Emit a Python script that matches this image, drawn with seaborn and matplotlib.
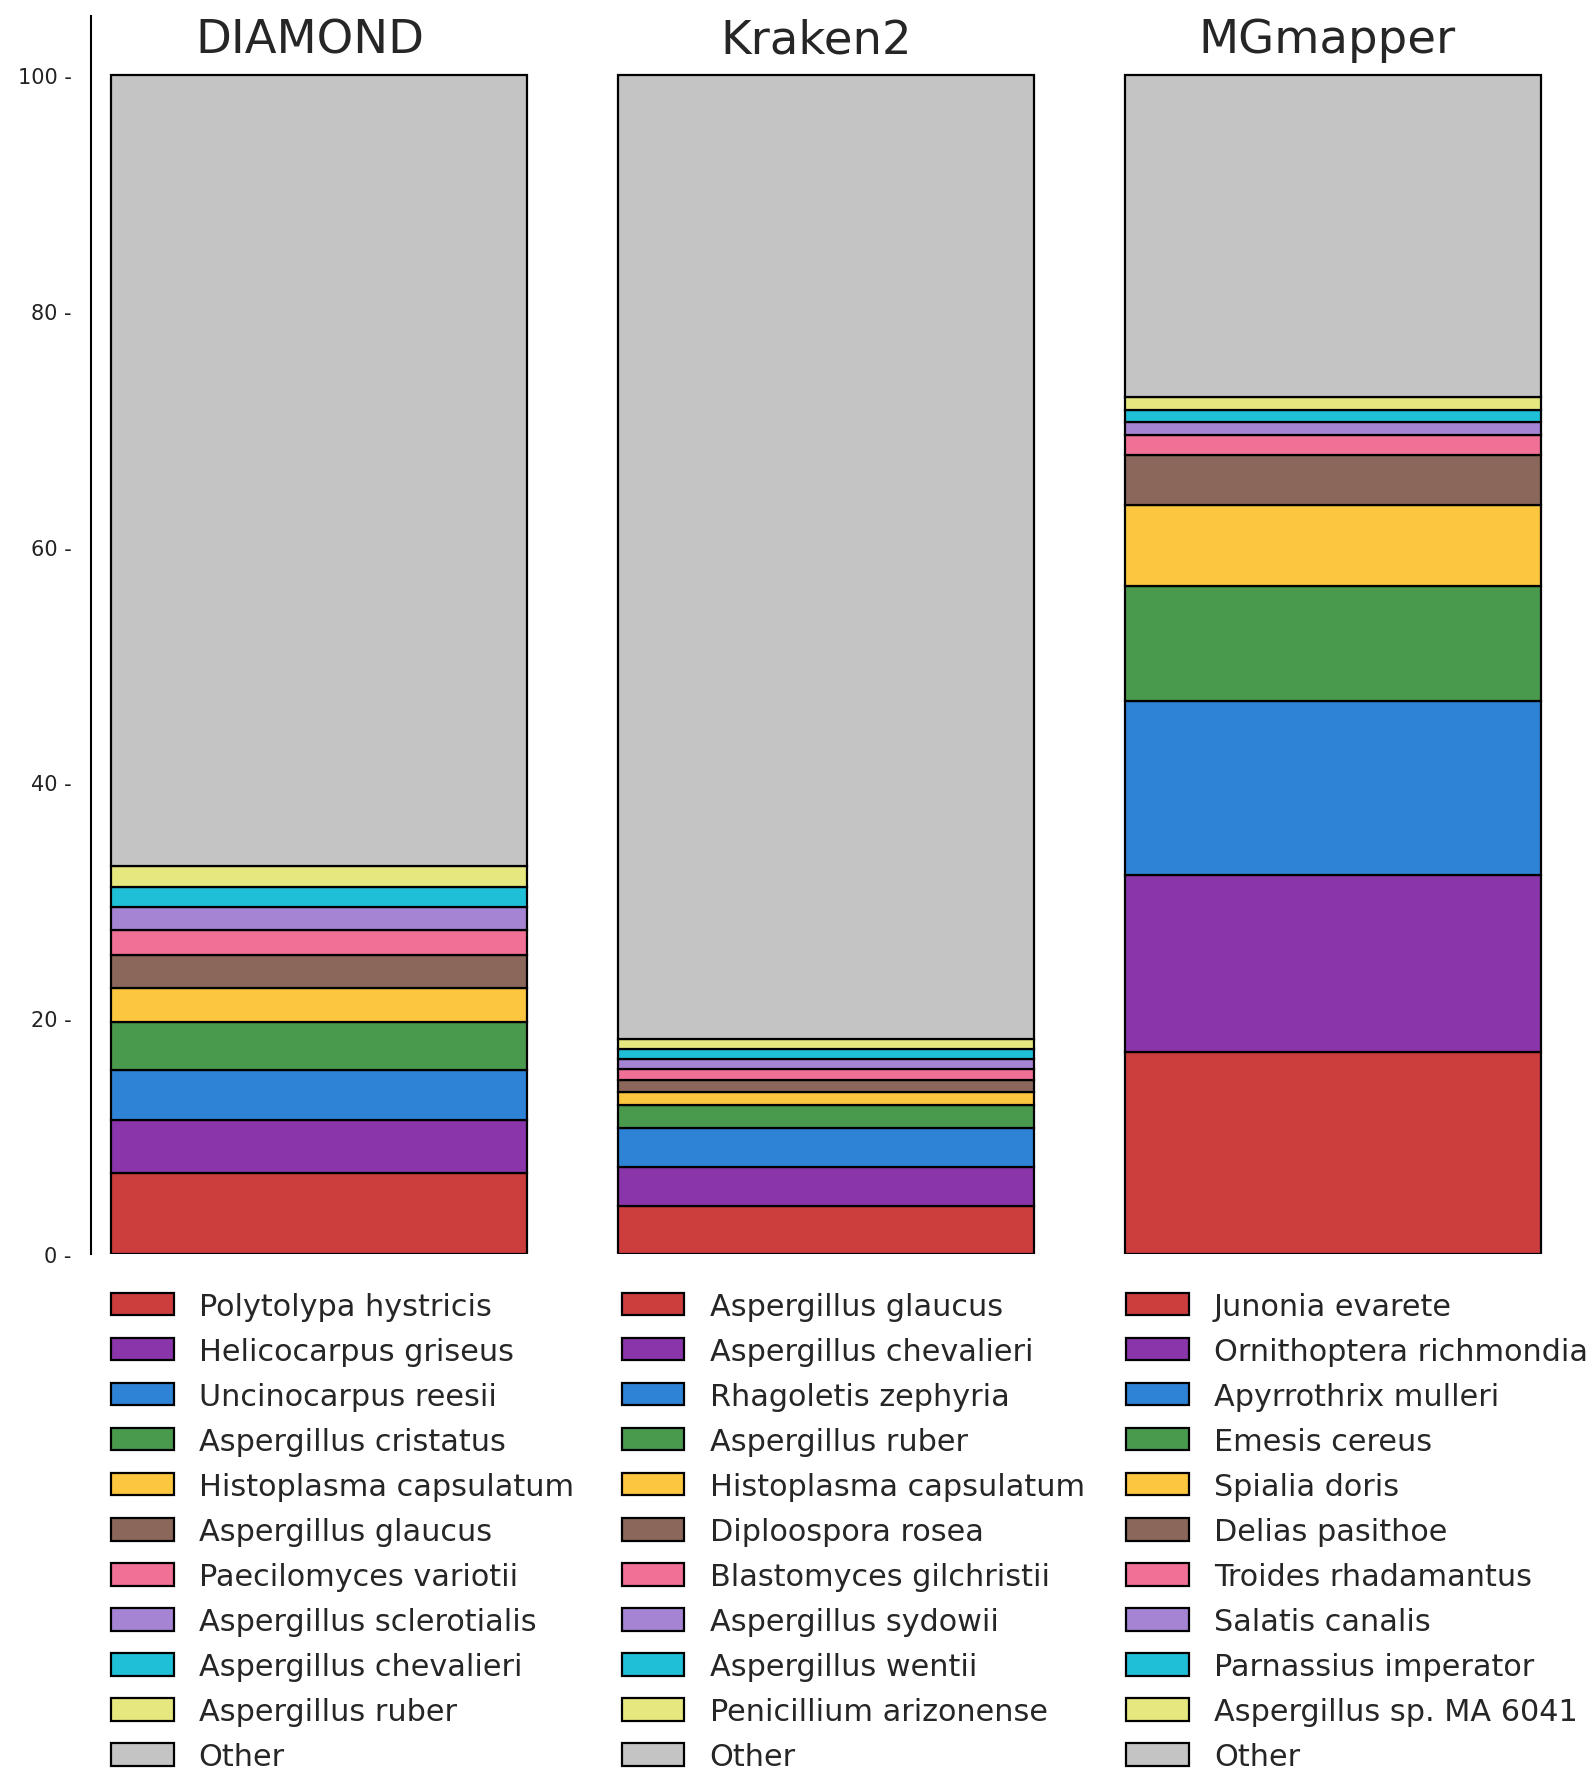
"""
Stacked relative-abundance bars for DIAMOND, Kraken2 and MGmapper.
"""

import matplotlib
matplotlib.use("Agg")
import matplotlib.pyplot as plt
from matplotlib.patches import Patch
import seaborn as sns
import numpy as np
import pandas as pd

tools = ["DIAMOND", "Kraken2", "MGmapper"]

diamond_species = ["Polytolypa hystricis", "Helicocarpus griseus", "Uncinocarpus reesii",
                   "Aspergillus cristatus", "Histoplasma capsulatum", "Aspergillus glaucus",
                   "Paecilomyces variotii", "Aspergillus sclerotialis", "Aspergillus chevalieri",
                   "Aspergillus ruber", "Other"]
kraken_species = ["Aspergillus glaucus", "Aspergillus chevalieri", "Rhagoletis zephyria",
                  "Aspergillus ruber", "Histoplasma capsulatum", "Diploospora rosea",
                  "Blastomyces gilchristii", "Aspergillus sydowii", "Aspergillus wentii",
                  "Penicillium arizonense", "Other"]
mgmapper_species = ["Junonia evarete", "Ornithoptera richmondia", "Apyrrothrix mulleri",
                    "Emesis cereus", "Spialia doris", "Delias pasithoe", "Troides rhadamantus",
                    "Salatis canalis", "Parnassius imperator", "Aspergillus sp. MA 6041", "Other"]

diamond_values = [6.85, 4.56, 4.19, 4.12, 2.83, 2.78, 2.12, 1.95, 1.75, 1.8, 67.05]
kraken_values = [4.1, 3.3, 3.3, 1.95, 1.13, 1.02, 0.88, 0.85, 0.85, 0.82, 81.8]
mgmapper_values = [17.16, 14.95, 14.76, 9.83, 6.85, 4.19, 1.69, 1.14, 1.05, 1.07, 27.31]

rank_colors = ["#CC3D3D", "#8A35AA", "#2E83D6", "#4A9A4E", "#FCC63F", "#8A675A",
               "#F07096", "#A584D4", "#1FBFD8", "#E6E87F", "#C4C4C4"]

y_ticks = [0, 20, 40, 60, 80, 100]

sns.set_style("white")
plt.rcParams["font.family"] = ["DejaVu Sans"]

fig = plt.figure(figsize=(15.94, 17.81), dpi=100)
ax = fig.add_axes([0.0571, 0.2953, 0.9223, 0.6951])

values = np.array([diamond_values, kraken_values, mgmapper_values])
bottoms = np.zeros(len(tools))
for k, color in enumerate(rank_colors):
    df = pd.DataFrame({"tool": tools, "value": values[:, k]})
    sns.barplot(data=df, x="tool", y="value", color=color, width=0.82,
                bottom=bottoms.copy(), edgecolor="black", linewidth=1.6,
                saturation=1, ax=ax)
    bottoms += values[:, k]

ax.set_xlim(-0.45, 2.45)
ax.set_ylim(0, 105)
ax.set_xlabel("")
ax.set_ylabel("")
ax.set_xticks([])
ax.set_yticks(y_ticks)
ax.set_yticklabels([f"{t} -" for t in y_ticks], fontsize=15, color="#222222")
ax.tick_params(axis="y", length=0, pad=14)
for side in ["top", "right", "bottom"]:
    ax.spines[side].set_visible(False)
ax.spines["left"].set_color("black")
ax.spines["left"].set_linewidth(1.5)

# titles above each bar
title_x = [0.1945, 0.5122, 0.8328]
for name, tx in zip(tools, title_x):
    fig.text(tx, 0.9702, name, ha="center", va="baseline", fontsize=33.5)

# one legend under each bar
species_lists = [diamond_species, kraken_species, mgmapper_species]
legend_x = [0.0694, 0.3899, 0.7063]
for species, lx in zip(species_lists, legend_x):
    handles = [Patch(facecolor=c, edgecolor="black", linewidth=1.6) for c in rank_colors]
    fig.legend(handles, species, loc="upper left", bbox_to_anchor=(lx, 0.2742),
               frameon=False, fontsize=21.8, borderpad=0, borderaxespad=0,
               handlelength=2.08, handleheight=0.76, handletextpad=0.83,
               labelspacing=0.53)

plt.savefig("out.png", dpi=100)
